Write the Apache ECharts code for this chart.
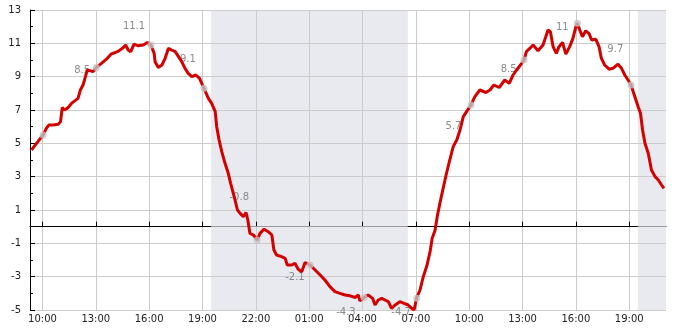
<!DOCTYPE html>
<html>
<head>
<meta charset="utf-8">
<script src="https://cdn.jsdelivr.net/npm/echarts@6/dist/echarts.min.js"></script>
<style>
html,body{margin:0;padding:0;background:#fff;}
#chart{width:685px;height:330px;}
</style>
</head>
<body>
<div id="chart"></div>
<script>
// ---- data (times HH:MM, a later time smaller than the previous one means next day) ----
const tempTimes = ['09:23','09:40','10:02','10:13','10:22','10:36','10:53','11:01','11:07','11:15','11:27','11:38','11:49','12:00','12:08','12:17','12:25','12:31','12:42','12:51','13:02','13:19','13:36','13:51','14:06','14:18','14:30','14:41','14:49','14:58','15:09','15:23','15:40','15:54','16:06','16:17','16:20','16:31','16:43','16:54','17:05','17:16','17:28','17:39','17:50','18:01','18:12','18:24','18:38','18:50','19:05','19:20','19:31','19:43','19:48','19:56','20:05','20:16','20:27','20:35','20:47','20:58','21:07','21:18','21:27','21:33','21:40','21:52','22:05','22:14','22:28','22:42','22:54','23:01','23:10','23:27','23:39','23:46','00:01','00:12','00:23','00:35','00:46','01:03','01:20','01:37','01:53','02:10','02:27','02:44','03:01','03:18','03:35','03:46','03:51','04:05','04:19','04:34','04:42','04:53','05:05','05:16','05:27','05:38','05:50','06:06','06:20','06:34','06:46','06:54','07:03','07:14','07:25','07:37','07:48','07:55','08:05','08:12','08:21','08:32','08:42','08:53','09:06','09:18','09:29','09:40','09:51','10:06','10:19','10:36','10:56','11:10','11:23','11:41','12:00','12:15','12:28','12:40','12:53','13:05','13:13','13:36','13:52','14:09','14:26','14:34','14:43','14:54','15:03','15:15','15:26','15:39','15:50','16:00','16:05','16:13','16:22','16:33','16:44','16:53','17:07','17:18','17:26','17:37','17:52','18:05','18:22','18:34','18:45','18:56','19:06','19:19','19:30','19:38','19:45','19:53','20:04','20:15','20:27','20:38','20:49','20:57'];
const tempValues = [4.6,5.0,5.5,5.9,6.1,6.1,6.15,6.3,7.15,7.0,7.15,7.4,7.55,7.7,8.2,8.5,9.0,9.4,9.35,9.3,9.55,9.8,10.05,10.35,10.45,10.55,10.7,10.9,10.6,10.5,10.95,10.85,10.9,11.05,10.9,10.4,9.9,9.55,9.7,10.1,10.7,10.6,10.5,10.2,9.9,9.5,9.2,9.0,9.1,8.9,8.3,7.7,7.4,6.9,6.0,5.2,4.5,3.8,3.2,2.6,1.8,1.0,0.8,0.6,0.85,0.4,-0.4,-0.5,-0.8,-0.4,-0.15,-0.3,-0.5,-1.4,-1.7,-1.8,-1.9,-2.3,-2.3,-2.2,-2.55,-2.7,-2.15,-2.3,-2.6,-2.9,-3.2,-3.6,-3.9,-4.0,-4.1,-4.15,-4.25,-4.1,-4.45,-4.25,-4.1,-4.3,-4.7,-4.4,-4.3,-4.4,-4.5,-4.9,-4.7,-4.5,-4.6,-4.7,-4.9,-5.0,-4.25,-3.8,-3.0,-2.35,-1.5,-0.7,-0.2,0.6,1.4,2.3,3.1,3.9,4.8,5.2,5.8,6.6,6.9,7.3,7.8,8.2,8.05,8.2,8.5,8.35,8.8,8.6,9.1,9.4,9.7,10.0,10.5,10.9,10.55,10.9,11.8,11.7,10.8,10.4,10.8,11.05,10.35,10.8,11.3,12.0,12.2,11.8,11.4,11.75,11.6,11.2,11.25,10.8,10.1,9.7,9.45,9.5,9.75,9.5,9.1,8.8,8.5,7.8,7.2,6.8,5.8,5.0,4.4,3.4,3.0,2.8,2.5,2.3];

const dotTimes = ['10:02','13:02','16:06','19:05','22:05','01:03','04:05','07:03','10:06','13:05','16:05','19:06'];
const dotValues = [5.5,9.55,10.9,8.3,-0.8,-2.3,-4.25,-4.3,7.3,10.0,12.2,8.5];

const labelTexts = ['8.5','11.1','9.1','-0.8','-2.1','-4.3','-4.7','5.7','8.5','11','9.7'];
const labelTimes = ['12:14','15:09','18:11','21:04','00:12','03:04','06:10','09:07','12:13','15:14','18:13'];
const labelAnchorValues = [9.4,12.04,10.06,1.78,-3.05,-5.15,-5.15,6.0,9.45,11.97,10.65];

const tickLabels = ['10:00','13:00','16:00','19:00','22:00','01:00','04:00','07:00','10:00','13:00','16:00','19:00'];
const yTicks = [-5,-3,-1,1,3,5,7,9,11,13];

const axisStart = '09:18';
const axisEnd = '21:04';      // next day
const nightStarts = ['19:29','19:29'];
const nightEnds = ['06:33','21:04'];

// ---- helpers: HH:MM -> hours since midnight of day 1 ----
function hm(s){ const p=s.split(':'); return (+p[0]) + (+p[1])/60; }
function withDays(list){
  let day=0, prev=-1; const out=[];
  list.forEach(s=>{ let h=hm(s); if(h<prev) day++; prev=h; out.push(day*24+h); });
  return out;
}
const tX = withDays(tempTimes);
const dX = withDays(dotTimes);
const lX = withDays(labelTimes);
const tickX = withDays(tickLabels);
const xMin = hm(axisStart);
const xMax = 24 + hm(axisEnd);
const bands = nightStarts.map((s,i)=>{
  const a = hm(s) + 24*i;
  let b = hm(nightEnds[i]) + 24*i; if(b < a) b += 24;
  return [a,b];
});

// zero line segments: black outside night, grey inside
const zeroSegs = [];
let cur = xMin;
bands.forEach(([a,b])=>{
  zeroSegs.push([{coord:[cur,0], lineStyle:{color:'#000'}},{coord:[a,0]}]);
  zeroSegs.push([{coord:[a,0], lineStyle:{color:'#9a9a9a'}},{coord:[Math.min(b,xMax),0]}]);
  cur = b;
});
if(cur < xMax) zeroSegs.push([{coord:[cur,0], lineStyle:{color:'#000'}},{coord:[xMax,0]}]);

const font = 'DejaVu Sans';
function fmtHour(v){ let h=Math.round(v)%24; return (h<10?'0':'')+h+':00'; }

const chart = echarts.init(document.getElementById('chart'), null, {renderer:'canvas'});
chart.setOption({
  animation:false,
  backgroundColor:'#fff',
  grid:{left:30,right:19,top:10,bottom:20,containLabel:false},
  xAxis:{
    type:'value', min:xMin, max:xMax, z:2,
    axisLine:{show:true,lineStyle:{color:'#000',width:1}},
    axisTick:{show:true,inside:true,length:5,lineStyle:{color:'#000'},customValues:tickX},
    axisLabel:{customValues:tickX,formatter:fmtHour,color:'#222',fontSize:10,fontFamily:font,margin:4},
    splitLine:{show:true,lineStyle:{color:'#cccccc',width:1}}
  },
  yAxis:{
    type:'value', min:-5, max:13, interval:2, z:2,
    axisLine:{show:true,lineStyle:{color:'#000',width:1}},
    axisTick:{show:true,inside:true,length:5,lineStyle:{color:'#000'}},
    minorTick:{show:true,splitNumber:2,length:3,lineStyle:{color:'#000'}},
    axisLabel:{color:'#222',fontSize:10,fontFamily:font,margin:9},
    splitLine:{show:true,lineStyle:{color:'#cccccc',width:1}}
  },
  series:[
    {
      type:'line', data:[], z:1, silent:true,
      markArea:{silent:true,itemStyle:{color:'#e9eaf0'},data:bands.map(([a,b])=>[{xAxis:a},{xAxis:Math.min(b,xMax)}])}
    },
    {
      type:'line', data:[], z:3, silent:true,
      markLine:{silent:true,symbol:['none','none'],label:{show:false},lineStyle:{width:1,type:'solid'},data:zeroSegs}
    },
    {
      type:'scatter', z:4, clip:false, silent:true,
      symbol:'circle', symbolSize:1, itemStyle:{color:'transparent'},
      data:lX.map((x,i)=>[x,labelAnchorValues[i]]),
      label:{show:true,position:'inside',color:'#6e6e6e',fontSize:10,fontFamily:font,
        formatter:p=>labelTexts[p.dataIndex]}
    },
    {
      type:'line', z:5, showSymbol:false, smooth:false,
      lineStyle:{color:'#d40000',width:3},
      data:tX.map((x,i)=>[x,tempValues[i]])
    },
    {
      type:'scatter', z:6, symbolSize:7, itemStyle:{color:'#c4c4c4'},
      data:dX.map((x,i)=>[x,dotValues[i]])
    }
  ]
});
</script>
</body>
</html>
